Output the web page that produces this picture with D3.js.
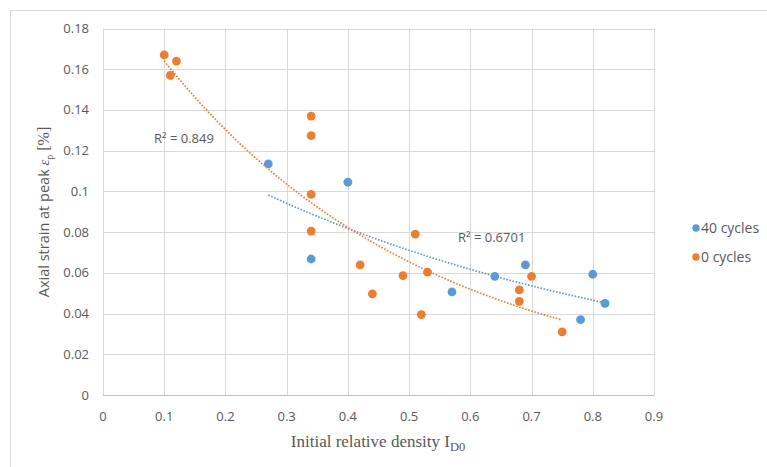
<!DOCTYPE html>
<html><head><meta charset="utf-8">
<script src="https://cdn.jsdelivr.net/npm/d3@7"></script>
<style>body{margin:0;background:#fff}svg{display:block}</style>
</head><body>
<svg id="c" width="767" height="467"></svg>
<script>
// Data
const xTicks = [0,0.1,0.2,0.3,0.4,0.5,0.6,0.7,0.8,0.9];
const yTicks = [0,0.02,0.04,0.06,0.08,0.1,0.12,0.14,0.16,0.18];
const seriesNames = ["40 cycles","0 cycles"];
const cycles40X = [0.27,0.40,0.34,0.57,0.64,0.69,0.78,0.80,0.82];
const cycles40Y = [0.1135,0.1045,0.0668,0.0506,0.0583,0.0639,0.037,0.0593,0.045];
const cycles0X = [0.10,0.12,0.11,0.34,0.34,0.34,0.34,0.42,0.44,0.49,0.51,0.53,0.52,0.68,0.68,0.70,0.75];
const cycles0Y = [0.167,0.164,0.157,0.137,0.1274,0.0985,0.0805,0.0639,0.0497,0.0586,0.079,0.0603,0.0395,0.0516,0.046,0.0583,0.031];
const r2Labels = ["R² = 0.6701","R² = 0.849"];

const colors = ["#5B9BD5","#ED7D31"];
const svg = d3.select("#c");
svg.append("rect").attr("x",10.5).attr("y",10.5).attr("width",900).attr("height",600)
  .attr("fill","#fff").attr("stroke","#d9d9d9");

const x = d3.scaleLinear().domain([0,0.9]).range([103,654]);
const y = d3.scaleLinear().domain([0,0.18]).range([395,28.5]);

const g = svg.append("g");
// gridlines
g.selectAll("line.vg").data(xTicks).join("line")
  .attr("x1",d=>Math.round(x(d))+0.5).attr("x2",d=>Math.round(x(d))+0.5)
  .attr("y1",y(0.18)).attr("y2",y(0)).attr("stroke","#d9d9d9");
g.selectAll("line.hg").data(yTicks).join("line")
  .attr("y1",d=>Math.round(y(d))+0.5).attr("y2",d=>Math.round(y(d))+0.5)
  .attr("x1",x(0)).attr("x2",x(0.9)).attr("stroke",d=>d===0?"#bfbfbf":"#d9d9d9");

const font = "'Open Sans', sans-serif";
g.selectAll("text.xt").data(xTicks).join("text")
  .attr("x",d=>x(d)).attr("y",421).attr("text-anchor","middle")
  .attr("font-family",font).attr("font-size",13).attr("fill","#595959")
  .text(d=>d3.format("")(d));
g.selectAll("text.yt").data(yTicks).join("text")
  .attr("x",89).attr("y",d=>y(d)+4.5).attr("text-anchor","end")
  .attr("font-family",font).attr("font-size",13).attr("fill","#595959")
  .text(d=>d3.format("")(d));

// exponential trendline fit (least squares on ln y)
function expFit(xs, ys){
  const n = xs.length, ly = ys.map(Math.log);
  const mx = d3.mean(xs), my = d3.mean(ly);
  let sxy=0,sxx=0;
  for(let i=0;i<n;i++){sxy+=(xs[i]-mx)*(ly[i]-my);sxx+=(xs[i]-mx)**2;}
  const b = sxy/sxx, a = Math.exp(my-b*mx);
  return t=>a*Math.exp(b*t);
}
const series = [
  {xs:cycles40X, ys:cycles40Y},
  {xs:cycles0X, ys:cycles0Y}
];
series.forEach((s,i)=>{
  g.selectAll(null).data(s.xs.map((v,j)=>[v,s.ys[j]])).join("circle")
    .attr("cx",d=>x(d[0])).attr("cy",d=>y(d[1])).attr("r",4.4).attr("fill",colors[i]);
});
series.forEach((s,i)=>{
  const f = expFit(s.xs,s.ys);
  const [lo,hi] = d3.extent(s.xs);
  const pts = d3.range(0,101).map(k=>{const t=lo+(hi-lo)*k/100;return [t,f(t)];});
  g.append("path").attr("d",d3.line().x(d=>x(d[0])).y(d=>y(d[1]))(pts))
    .attr("fill","none").attr("stroke",colors[i]).attr("stroke-width",1.7)
    .attr("stroke-dasharray","1.6,1.6");
});

// R² labels
g.append("text").attr("x",458).attr("y",242).attr("font-family",font).attr("font-size",13)
  .attr("fill","#595959").text(r2Labels[0]);
g.append("text").attr("x",154).attr("y",143).attr("font-family",font).attr("font-size",13)
  .attr("fill","#595959").text(r2Labels[1]);

// legend
seriesNames.forEach((nm,i)=>{
  const ly = 228 + i*29;
  g.append("circle").attr("cx",696).attr("cy",ly).attr("r",3.7).attr("fill",colors[i]);
  g.append("text").attr("x",701).attr("y",ly+5).attr("font-family",font).attr("font-size",14)
    .attr("fill","#595959").text(nm);
});

// axis titles
const xt = g.append("text").attr("x",378).attr("y",447).attr("text-anchor","middle")
  .attr("font-family","'Liberation Serif', serif").attr("font-size",17).attr("fill","#595959");
xt.append("tspan").text("Initial relative density I");
xt.append("tspan").attr("font-size",12.5).attr("dy",4).text("D0");

const yt = g.append("text").attr("transform","translate(49,212) rotate(-90)").attr("text-anchor","middle")
  .attr("font-family",font).attr("font-size",14.5).attr("fill","#595959");
yt.append("tspan").text("Axial strain at peak ");
yt.append("tspan").attr("font-family","'Liberation Serif', serif").attr("font-style","italic").text("ε");
yt.append("tspan").attr("font-family","'Liberation Serif', serif").attr("font-size",10).attr("dy",4).text("p");
yt.append("tspan").attr("font-family","'Liberation Serif', serif").attr("font-size",16).attr("dy",-4).text(" [%]");
</script>
</body></html>
